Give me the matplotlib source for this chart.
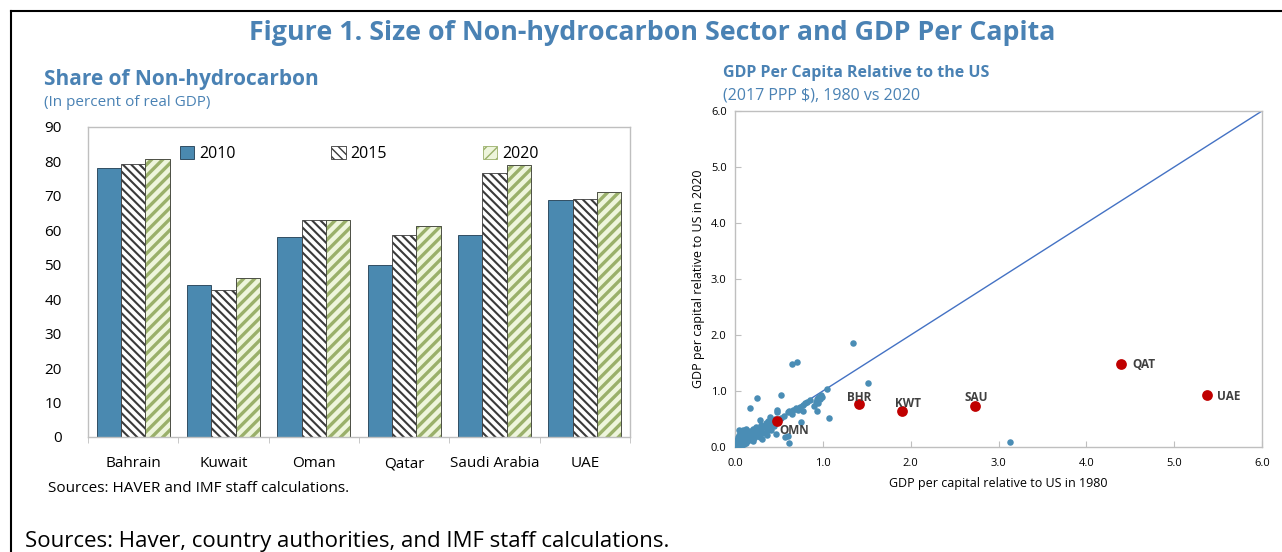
import matplotlib
matplotlib.use("Agg")
import matplotlib.pyplot as plt
import numpy as np

plt.rcParams['font.family'] = ['Open Sans', 'DejaVu Sans']

# ---- Data: bar chart ----
countries = ["Bahrain", "Kuwait", "Oman", "Qatar", "Saudi Arabia", "UAE"]
years = ["2010", "2015", "2020"]
share_2010 = [78.2, 44.1, 58.0, 49.9, 58.5, 68.9]
share_2015 = [79.4, 42.6, 63.1, 58.5, 76.5, 69.2]
share_2020 = [80.6, 46.1, 62.9, 61.3, 78.9, 71.0]
bar_yticks = [0, 10, 20, 30, 40, 50, 60, 70, 80, 90]

# ---- Data: scatter ----
gcc_codes = ["OMN", "BHR", "KWT", "SAU", "QAT", "UAE"]
gcc_1980 = [0.48, 1.41, 1.90, 2.73, 4.40, 5.37]
gcc_2020 = [0.47, 0.77, 0.65, 0.74, 1.48, 0.93]

other_1980 = [1.34, 0.65, 0.71, 1.51, 1.05, 0.52, 0.25, 0.17, 1.07, 0.75, 0.62, 3.13, 0.57, 0.60,
              0.98, 0.96, 0.95, 0.93, 0.97, 0.99, 0.92, 0.94, 0.90, 0.93, 0.85, 0.82, 0.80, 0.77,
              0.74, 0.70, 0.66, 0.62, 0.72, 0.77, 0.65, 0.60, 0.56, 0.52,
              0.48, 0.48, 0.40, 0.45, 0.42, 0.38, 0.35, 0.30, 0.28, 0.33, 0.44, 0.41, 0.47, 0.36,
              0.38, 0.30, 0.26, 0.27, 0.22, 0.24, 0.20, 0.18, 0.16, 0.14, 0.12, 0.10, 0.08, 0.05,
              0.06, 0.04, 0.03, 0.02, 0.05, 0.07, 0.09, 0.11, 0.13, 0.15, 0.17, 0.19, 0.21, 0.23,
              0.25, 0.28, 0.31, 0.33, 0.12, 0.10, 0.08, 0.06, 0.14, 0.16, 0.18, 0.20, 0.22, 0.02,
              0.03, 0.01, 0.04, 0.07, 0.09, 0.13, 0.15, 0.11, 0.19, 0.26, 0.29, 0.36, 0.40, 0.43]
other_2020 = [1.85, 1.48, 1.52, 1.14, 1.04, 0.93, 0.87, 0.70, 0.51, 0.45, 0.07, 0.09, 0.18, 0.20,
              0.92, 0.90, 0.87, 0.85, 0.86, 0.89, 0.80, 0.78, 0.74, 0.64, 0.84, 0.80, 0.78, 0.75,
              0.72, 0.69, 0.66, 0.64, 0.66, 0.65, 0.59, 0.62, 0.55, 0.52,
              0.66, 0.62, 0.54, 0.50, 0.45, 0.47, 0.42, 0.40, 0.48, 0.36, 0.38, 0.30, 0.24, 0.22,
              0.30, 0.28, 0.30, 0.22, 0.25, 0.35, 0.32, 0.28, 0.22, 0.20, 0.26, 0.18, 0.22, 0.30,
              0.15, 0.10, 0.05, 0.02, 0.04, 0.08, 0.10, 0.12, 0.15, 0.17, 0.18, 0.20, 0.19, 0.24,
              0.20, 0.18, 0.15, 0.25, 0.08, 0.05, 0.03, 0.01, 0.10, 0.12, 0.14, 0.10, 0.16, 0.12,
              0.18, 0.07, 0.22, 0.26, 0.30, 0.32, 0.29, 0.22, 0.24, 0.26, 0.33, 0.34, 0.40, 0.43]
scatter_ticks = [0.0, 1.0, 2.0, 3.0, 4.0, 5.0, 6.0]

BLUE_T = "#4A82B4"
BAR_BLUE = "#4A89B0"
DOT_BLUE = "#4A8DB5"
RED = "#C00000"
FRAME = "#BFBFBF"


def set_hlw(patches, lw):
    for p in patches:
        if hasattr(p, "set_hatch_linewidth"):
            p.set_hatch_linewidth(lw)


fig = plt.figure(figsize=(12.82, 5.52), dpi=100)

# Outer frame lines (top and left)
fig.add_artist(plt.Line2D([11/1282, 1.0], [1-11/552, 1-11/552], color="black", lw=1.5))
fig.add_artist(plt.Line2D([11/1282, 11/1282], [0, 1-11/552], color="black", lw=1.5))

fig.text(652/1282, 1-33/552, "Figure 1. Size of Non-hydrocarbon Sector and GDP Per Capita",
         ha="center", va="center", fontsize=19.3, fontweight="bold", color=BLUE_T)

# ---- Bar chart ----
ax1 = fig.add_axes([88/1282, 1-437/552, 542/1282, 310/552])
x = np.arange(len(countries))
w = 0.27
ax1.bar(x - w, share_2010, w, color=BAR_BLUE, edgecolor="#1F3B50", lw=0.6, label=years[0])
with plt.rc_context({"hatch.linewidth": 1.5}):
    b2 = ax1.bar(x, share_2015, w, color="white", edgecolor="#3A3A3A", hatch="\\\\\\\\",
                 lw=0.6, label=years[1])
    set_hlw(b2, 1.5)
with plt.rc_context({"hatch.linewidth": 2.4}):
    b3 = ax1.bar(x + w, share_2020, w, color="#EEF5DC", edgecolor="#9AB06A", hatch="///",
                 lw=0.6, label=years[2])
    set_hlw(b3, 2.4)
ax1.bar(x + w, share_2020, w, color="none", edgecolor="#404040", lw=0.6)
ax1.set_xlim(-0.5, len(countries) - 0.5)
ax1.set_ylim(0, 90)
ax1.set_yticks(bar_yticks)
ax1.set_xticks(x)
ax1.set_xticklabels(countries, fontsize=11)
ax1.tick_params(axis="y", length=0, labelsize=11, pad=19)
ax1.tick_params(axis="x", length=0, pad=14)
ax1.set_xticks(np.arange(-0.5, len(countries), 1.0), minor=True)
ax1.tick_params(axis="x", which="minor", length=4, color=FRAME, direction="out")
for s in ax1.spines.values():
    s.set_color(FRAME)
    s.set_linewidth(1.0)
leg = ax1.legend(ncol=3, loc="upper center", bbox_to_anchor=(0.5, 0.985), frameon=False,
                 fontsize=11.5, handlelength=0.9, handleheight=0.9, handletextpad=0.3,
                 columnspacing=6.0)

fig.text(44/1282, 1-80/552, "Share of Non-hydrocarbon", fontsize=15, fontweight="bold",
         color=BLUE_T, va="center")
fig.text(44/1282, 1-103/552, "(In percent of real GDP)", fontsize=11, color=BLUE_T, va="center")
fig.text(48/1282, 1-489/552, "Sources: HAVER and IMF staff calculations.", fontsize=11, va="center")

# ---- Scatter ----
ax2 = fig.add_axes([735/1282, 1-447/552, 527/1282, 336/552])
ax2.plot([0, 6], [0, 6], color="#4472C4", lw=1.0, zorder=2)
ax2.scatter(other_1980, other_2020, s=22, color=DOT_BLUE, zorder=3, linewidths=0)
ax2.scatter(gcc_1980, gcc_2020, s=60, color=RED, zorder=4, linewidths=0)
offsets = {"OMN": (0.03, -0.17, "left"), "BHR": (0.0, 0.12, "center"),
           "KWT": (0.07, 0.12, "center"), "SAU": (0.02, 0.15, "center"),
           "QAT": (0.12, 0.0, "left"), "UAE": (0.12, -0.02, "left")}
for c, xv, yv in zip(gcc_codes, gcc_1980, gcc_2020):
    dx, dy, ha = offsets[c]
    ax2.text(xv + dx, yv + dy, c, fontsize=8.5, fontweight="bold", color="#404040",
             ha=ha, va="center", zorder=5)
ax2.set_xlim(0, 6)
ax2.set_ylim(0, 6)
ax2.set_xticks(scatter_ticks)
ax2.set_yticks(scatter_ticks)
ax2.set_xticklabels([f"{t:.1f}" for t in scatter_ticks])
ax2.set_yticklabels([f"{t:.1f}" for t in scatter_ticks])
ax2.tick_params(direction="in", length=4, color=FRAME, labelsize=8)
ax2.tick_params(axis="x", pad=8)
ax2.tick_params(axis="y", pad=6)
for s in ax2.spines.values():
    s.set_color(FRAME)
    s.set_linewidth(1.0)
ax2.set_xlabel("GDP per capital relative to US in 1980", fontsize=9, labelpad=6)
ax2.set_ylabel("GDP per capital relative to US in 2020", fontsize=9, labelpad=4)

fig.text(723/1282, 1-73/552, "GDP Per Capita Relative to the US", fontsize=11.5,
         fontweight="bold", color=BLUE_T, va="center")
fig.text(723/1282, 1-95/552, "(2017 PPP $), 1980 vs 2020", fontsize=11.5, color=BLUE_T, va="center")

fig.text(25/1282, 1-542/552, "Sources: Haver, country authorities, and IMF staff calculations.",
         fontsize=16, va="center")

fig.savefig("out.png", dpi=100)
